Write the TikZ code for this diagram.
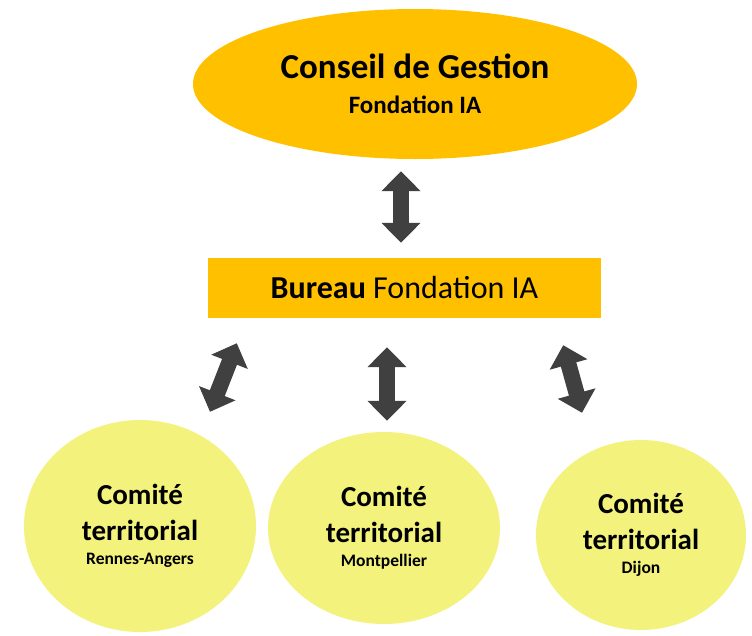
\documentclass[tikz,border=0pt]{standalone}
\usepackage{fontspec}
\setmainfont{Carlito}
\usetikzlibrary{shapes.geometric,arrows.meta}
\definecolor{gold}{RGB}{255,192,0}
\definecolor{paleyellow}{RGB}{242,242,124}
\definecolor{arrowgray}{RGB}{64,64,64}

\begin{document}
\begin{tikzpicture}[x=1pt, y=-1pt,
	conseilbox/.style={ellipse, fill=gold, minimum width=444pt, minimum height=150pt, align=center, inner sep=0pt, font=\fontsize{35}{37}\selectfont\bfseries},
	bureaubox/.style={rectangle, fill=gold, minimum width=393pt, minimum height=60pt, inner sep=0pt, font=\fontsize{32}{36}\selectfont},
	comitebox/.style={ellipse, fill=paleyellow, align=center, inner sep=0pt, font=\fontsize{29}{36}\selectfont\bfseries},
	biarrow/.style={draw=arrowgray, line width=16pt, {Triangle[width=38pt,length=20pt]}-{Triangle[width=38pt,length=20pt]}}]
		\useasboundingbox (0,0) rectangle (752,635);
		
		% Top level
		\node[conseilbox] (conseil) at (415,84)
			{Conseil de Gestion\\[-2pt]{\fontsize{25}{30}\selectfont Fondation IA}};
		
		% Bureau
		\node[bureaubox] (bureau) at (404.5,288) {{\bfseries Bureau} Fondation IA};
		
		% Comites
		\node[comitebox, minimum width=232pt, minimum height=212pt] (rennes) at (140,526)
			{Comité\\territorial\\[-12pt]{\fontsize{17.5}{20}\selectfont Rennes-Angers}};
		\node[comitebox, minimum width=232pt, minimum height=192pt] (montpellier) at (384,528)
			{Comité\\territorial\\[-12pt]{\fontsize{17.5}{20}\selectfont Montpellier}};
		\node[comitebox, minimum width=210pt, minimum height=190pt] (dijon) at (641,535)
			{Comité\\territorial\\[-12pt]{\fontsize{17.5}{20}\selectfont Dijon}};
		
		% Arrows
		\draw[biarrow] ([xshift=-14pt,yshift=-12pt]conseil.south) -- ([xshift=-3.5pt,yshift=15pt]bureau.north);
		\draw[biarrow] ([xshift=29pt,yshift=-25pt]bureau.south west) -- ([xshift=70pt,yshift=8pt]rennes.north);
		\draw[biarrow] ([xshift=-17.5pt,yshift=-29pt]bureau.south) -- ([xshift=3pt,yshift=11pt]montpellier.north);
		\draw[biarrow] ([xshift=-38pt,yshift=-27pt]bureau.south east) -- ([xshift=-59pt,yshift=27pt]dijon.north);
	\end{tikzpicture}
\end{document}
